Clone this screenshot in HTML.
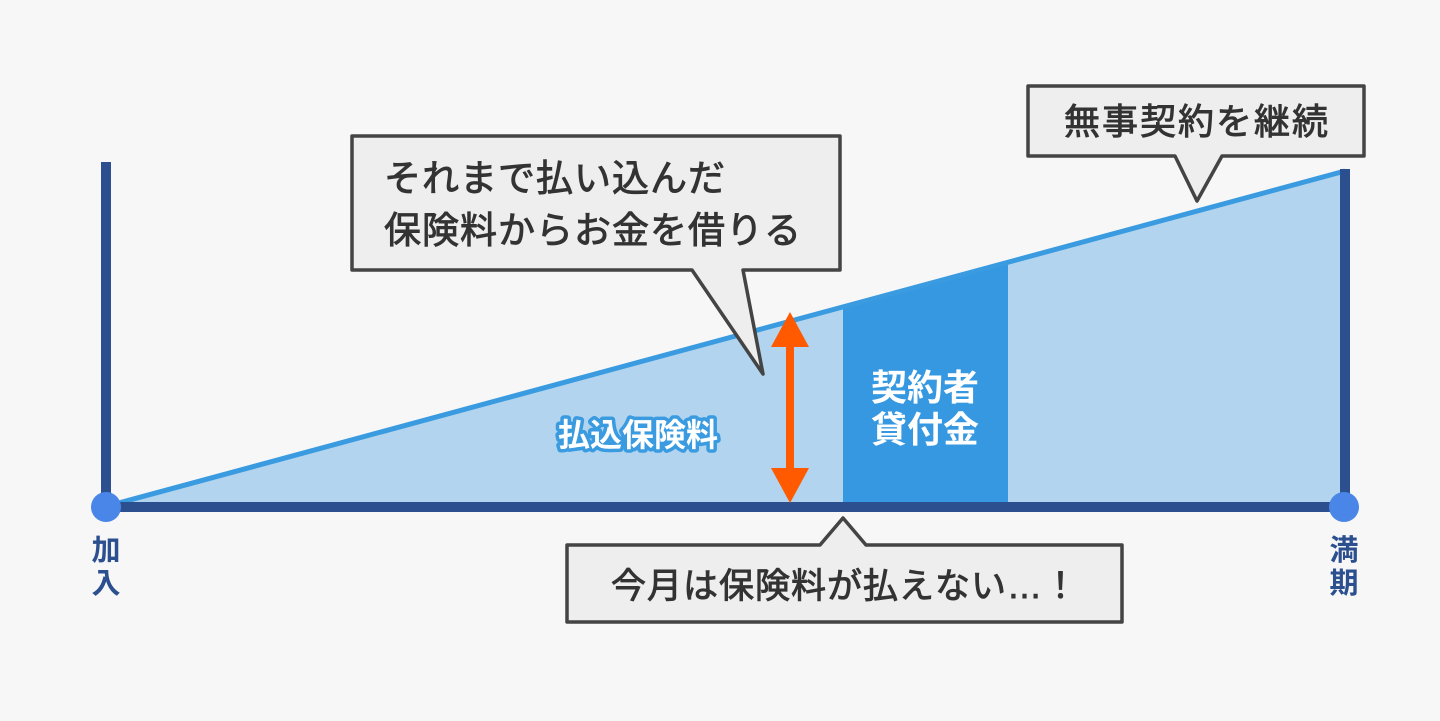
<!DOCTYPE html>
<html><head><meta charset="utf-8"><style>
html,body{margin:0;padding:0;background:#f7f7f7;}
svg{display:block;}
text{font-family:"Liberation Sans","Noto Sans CJK JP",sans-serif;}
.c{fill:#333;stroke:#333;stroke-width:0.9px;}
</style></head><body>
<svg width="1440" height="721" viewBox="0 0 1440 721" xmlns="http://www.w3.org/2000/svg">
<rect width="1440" height="721" fill="#f7f7f7"/>
<polygon points="115,505 1345,171 1345,505" fill="#b2d4ee"/>
<polygon points="843,309 1008,264 1008,505 843,505" fill="#3598e0"/>
<line x1="115" y1="504" x2="1345" y2="171" stroke="#3a9be0" stroke-width="5"/>
<rect x="101" y="162" width="10" height="350" fill="#2b4f8f"/>
<rect x="1340" y="169" width="10" height="343" fill="#2b4f8f"/>
<rect x="106" y="502" width="1240" height="10" fill="#2b4f8f"/>
<circle cx="106" cy="507" r="15" fill="#4a86e8"/>
<circle cx="1344" cy="507" r="15" fill="#4a86e8"/>
<text x="106" y="560" font-size="29" font-weight="bold" fill="#2b4f8f" text-anchor="middle">加</text>
<text x="106" y="593" font-size="29" font-weight="bold" fill="#2b4f8f" text-anchor="middle">入</text>
<text x="1344" y="560" font-size="29" font-weight="bold" fill="#2b4f8f" text-anchor="middle">満</text>
<text x="1344" y="593" font-size="29" font-weight="bold" fill="#2b4f8f" text-anchor="middle">期</text>
<text x="638" y="446" font-size="32" font-weight="bold" fill="#fff" stroke="#3a9be0" stroke-width="7" paint-order="stroke" stroke-linejoin="round" text-anchor="middle">払込保険料</text>
<text x="925" y="400" font-size="36" font-weight="bold" fill="#fff" text-anchor="middle">契約者</text>
<text x="925" y="442" font-size="36" font-weight="bold" fill="#fff" text-anchor="middle">貸付金</text>
<rect x="786" y="340" width="8" height="135" fill="#ff5a00"/>
<polygon points="790,312 809,347 771,347" fill="#ff5a00"/>
<polygon points="790,503 809,468 771,468" fill="#ff5a00"/>
<path d="M352,136 H840 V270 H743 L763,374 L692,270 H352 Z" fill="#eeeeee" stroke="#444" stroke-width="3.5" stroke-linejoin="round"/>
<text x="384" y="191" font-size="37" letter-spacing="1" class="c">それまで払い込んだ</text>
<text x="384" y="243" font-size="37" letter-spacing="1" class="c">保険料からお金を借りる</text>
<path d="M1028,86 H1364 V156 H1222 L1197,201 L1175,156 H1028 Z" fill="#eeeeee" stroke="#444" stroke-width="3.5" stroke-linejoin="round"/>
<text x="1197" y="134" font-size="36" letter-spacing="2" class="c" text-anchor="middle">無事契約を継続</text>
<path d="M567,545 H820 L843,518 L866,545 H1122 V622 H567 Z" fill="#eeeeee" stroke="#444" stroke-width="3.5" stroke-linejoin="round"/>
<text x="845" y="598" font-size="35" letter-spacing="1" class="c" text-anchor="middle">今月は保険料が払えない…！</text>
</svg>
</body></html>
